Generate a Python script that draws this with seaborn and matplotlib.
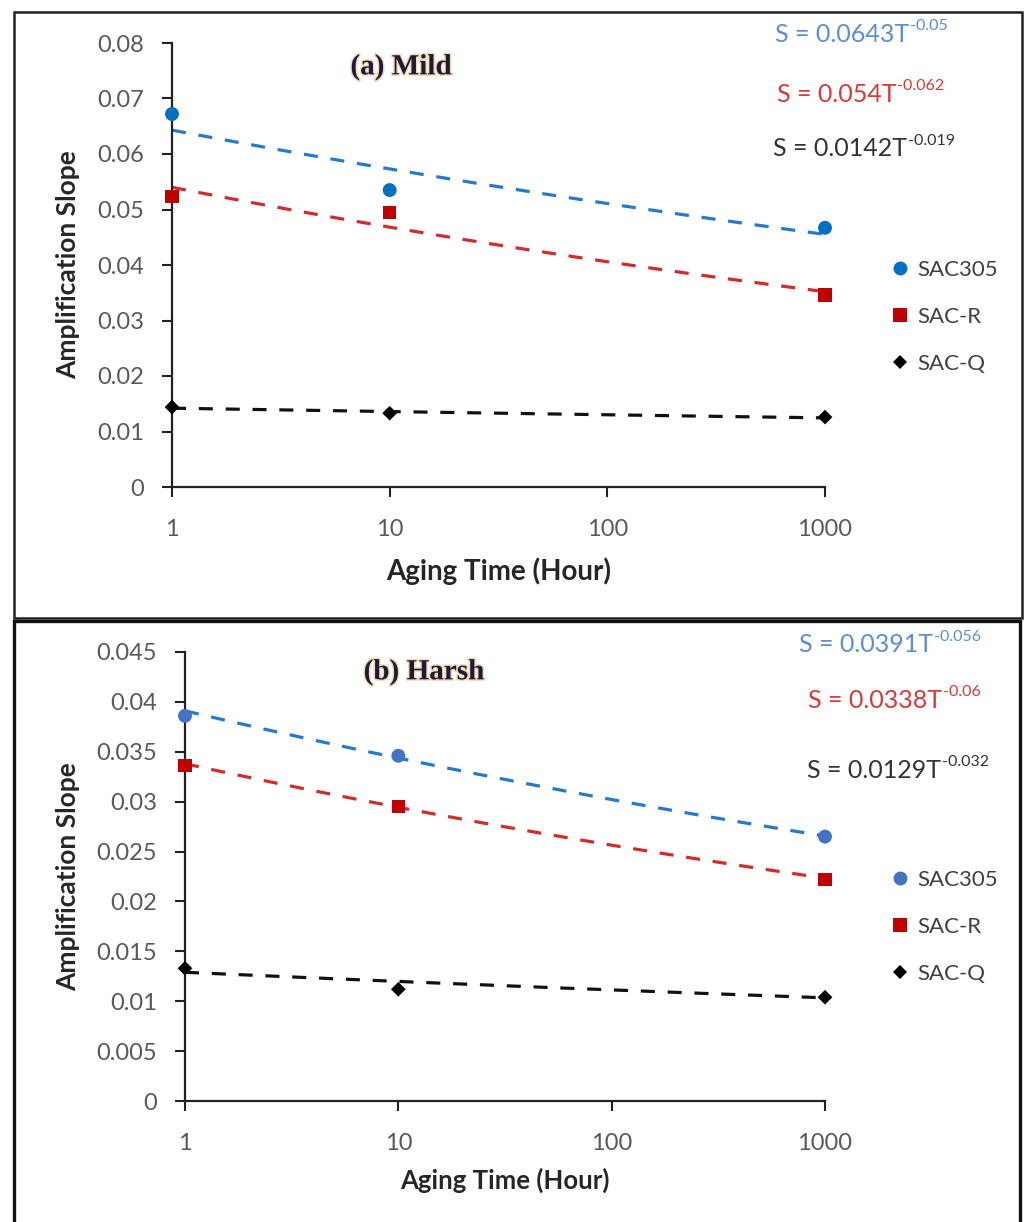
import numpy as np
import pandas as pd
import matplotlib
matplotlib.use("Agg")
import matplotlib.pyplot as plt
import seaborn as sns
from matplotlib.lines import Line2D
from matplotlib.patches import Rectangle
from matplotlib.ticker import FixedLocator, FuncFormatter, NullLocator
import matplotlib.patheffects as pe

# ---- data -------------------------------------------------------------
aging_hours = [1, 10, 1000]
alloys = ["SAC305", "SAC-R", "SAC-Q"]

mild_sac305 = [0.0672, 0.0535, 0.0467]
mild_sacr = [0.0523, 0.0494, 0.0346]
mild_sacq = [0.0144, 0.0133, 0.0126]

harsh_sac305 = [0.0386, 0.0346, 0.0265]
harsh_sacr = [0.0336, 0.0295, 0.0222]
harsh_sacq = [0.0133, 0.0112, 0.0104]

# power-law fits S = a * T^b
mild_coef = [0.0643, 0.054, 0.0142]
mild_exp = [-0.05, -0.062, -0.019]
harsh_coef = [0.0391, 0.0338, 0.0129]
harsh_exp = [-0.056, -0.06, -0.032]

x_ticks = [1, 10, 100, 1000]
mild_y_ticks = [0, 0.01, 0.02, 0.03, 0.04, 0.05, 0.06, 0.07, 0.08]
harsh_y_ticks = [0, 0.005, 0.01, 0.015, 0.02, 0.025, 0.03, 0.035, 0.04, 0.045]

# ---- style ------------------------------------------------------------
sns.set_style("ticks")
plt.rcParams["font.family"] = ["Lato", "DejaVu Sans"]

W, H = 1024, 1222
fig = plt.figure(figsize=(W / 100, H / 100), dpi=100)


def fx(px):
    return px / W


def fy(py):
    return 1 - py / H


markers = {"SAC305": "o", "SAC-R": "s", "SAC-Q": "D"}
msizes = {"SAC305": 10, "SAC-R": 9.5, "SAC-Q": 7.5}
line_colors = {"SAC305": "#2479d0", "SAC-R": "#d42a2a", "SAC-Q": "#111111"}
eq_colors = {"SAC305": "#5b8ed8", "SAC-R": "#d9383a", "SAC-Q": "#333333"}


def fmt_tick(v, _pos):
    return f"{v:g}"


def panel(ax, series, coefs, exps, yticks, marker_colors, title, title_xy,
          eq_x, eq_y, leg_anchor, label_coords, xlabel_size):
    T = np.logspace(0, 3, 200)
    for name, vals, a, b in zip(alloys, series, coefs, exps):
        fit = pd.DataFrame({"T": T, "S": a * T ** b})
        sns.lineplot(data=fit, x="T", y="S", ax=ax, color=line_colors[name],
                     zorder=2)
        fit_line = ax.lines[-1]
        fit_line.set_linewidth(2.3)
        fit_line.set_dashes((4.4, 4.0))
        pts = pd.DataFrame({"T": aging_hours, "S": vals})
        sns.scatterplot(data=pts, x="T", y="S", ax=ax, marker=markers[name],
                        color=marker_colors[name], s=msizes[name] ** 2,
                        edgecolor="none", linewidth=0, zorder=3, legend=False)
        ax.collections[-1].set_clip_on(False)

    ax.set_xscale("log")
    ax.set_xlim(1, 1000)
    ax.set_ylim(yticks[0], yticks[-1])
    ax.xaxis.set_major_locator(FixedLocator(x_ticks))
    ax.xaxis.set_minor_locator(NullLocator())
    ax.xaxis.set_major_formatter(FuncFormatter(fmt_tick))
    ax.yaxis.set_major_locator(FixedLocator(yticks))
    ax.yaxis.set_major_formatter(FuncFormatter(fmt_tick))
    sns.despine(ax=ax)
    for s in ("left", "bottom"):
        ax.spines[s].set_linewidth(1.6)
        ax.spines[s].set_color("#222222")
    ax.tick_params(axis="both", direction="out", length=7, width=1.5,
                   color="#222222", labelsize=17, labelcolor="#595959")
    ax.tick_params(axis="y", pad=13)
    ax.tick_params(axis="x", pad=16)

    ax.set_xlabel("Aging Time (Hour)", fontsize=xlabel_size, weight="bold",
                  color="#262626")
    ax.set_ylabel("Amplification Slope", fontsize=19, weight="bold",
                  color="#262626")
    ax.xaxis.set_label_coords(0.5, label_coords[0])
    ax.yaxis.set_label_coords(label_coords[1], 0.5)

    fig.text(fx(title_xy[0]), fy(title_xy[1]), title,
             family=["Liberation Serif", "DejaVu Serif"], weight="bold",
             size=21, color="#1b1b3a", ha="center", va="center",
             path_effects=[pe.withStroke(linewidth=2.2, foreground="#f3d9b5")])

    for name, a, b, xs, ys in zip(alloys, coefs, exps, eq_x, eq_y):
        t = fig.text(fx(xs), fy(ys), f"S = {a}T", size=18,
                     color=eq_colors[name], ha="left", va="center")
        ax.annotate(f"{b}", xy=(1, 1), xycoords=t, xytext=(0.5, 2.5),
                    textcoords="offset points", size=11.5,
                    color=eq_colors[name], ha="left", va="top",
                    annotation_clip=False)

    handles = [Line2D([], [], marker=markers[n], linestyle="none",
                      color=marker_colors[n], markersize=msizes[n],
                      markeredgewidth=0) for n in alloys]
    leg = ax.legend(handles, alloys, loc="upper left",
                    bbox_to_anchor=(fx(leg_anchor[0]), fy(leg_anchor[1])),
                    bbox_transform=fig.transFigure, frameon=False,
                    fontsize=16, labelspacing=1.22, handlelength=0.9,
                    handletextpad=0.35, borderpad=0, borderaxespad=0)
    for txt in leg.get_texts():
        txt.set_color("#404040")


# ---- top panel: mild ---------------------------------------------------
ax1 = fig.add_axes([fx(172), fy(487), fx(825) - fx(172), (487 - 43) / H])
panel(ax1, [mild_sac305, mild_sacr, mild_sacq], mild_coef, mild_exp,
      mild_y_ticks,
      {"SAC305": "#0070c0", "SAC-R": "#c00000", "SAC-Q": "#000000"},
      "(a) Mild", (401, 67),
      [775, 777, 773], [34, 94, 149], (890, 260),
      (-0.158, -0.141), 20)

# ---- bottom panel: harsh -------------------------------------------------
ax2 = fig.add_axes([fx(185), fy(1101), fx(825) - fx(185), (1101 - 652) / H])
panel(ax2, [harsh_sac305, harsh_sacr, harsh_sacq], harsh_coef, harsh_exp,
      harsh_y_ticks,
      {"SAC305": "#4472c4", "SAC-R": "#c00000", "SAC-Q": "#000000"},
      "(b) Harsh", (424, 672),
      [799, 808, 807], [645, 700, 770], (890, 870),
      (-0.149, -0.164), 18.5)

# ---- panel frames ------------------------------------------------------
fig.add_artist(Rectangle((fx(14), fy(618)), fx(1022) - fx(14), (618 - 12) / H,
                         transform=fig.transFigure, fill=False,
                         edgecolor="#222222", linewidth=1.8))
fig.add_artist(Rectangle((fx(14), fy(1224)), fx(1020) - fx(14), (1224 - 621) / H,
                         transform=fig.transFigure, fill=False,
                         edgecolor="#111111", linewidth=2.4))

fig.savefig("out.png", dpi=100, facecolor="white")
